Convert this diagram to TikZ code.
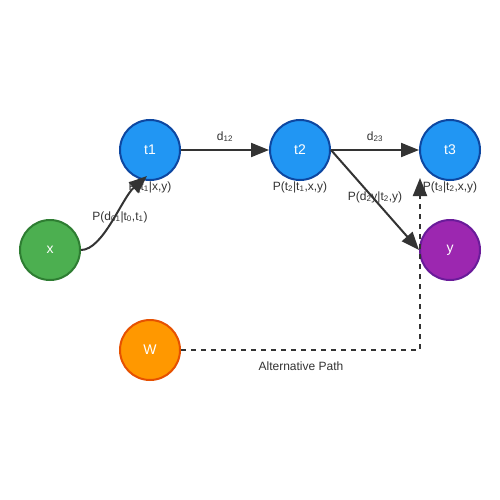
\documentclass[tikz,border=0pt]{standalone}
\usepackage{fontspec}
\setmainfont{Liberation Sans}
\usetikzlibrary{arrows.meta}
\definecolor{tblue}{HTML}{2196F3}
\definecolor{tblueb}{HTML}{0D47A1}
\definecolor{xgreen}{HTML}{4CAF50}
\definecolor{xgreenb}{HTML}{2E7D32}
\definecolor{ypurple}{HTML}{9C27B0}
\definecolor{ypurpleb}{HTML}{6A1B9A}
\definecolor{worange}{HTML}{FF9800}
\definecolor{worangeb}{HTML}{E65100}
\definecolor{ink}{HTML}{333333}
\newcommand{\subs}[1]{\textsubscript{#1}}
\begin{document}
\begin{tikzpicture}[x=1pt,y=-1pt,
  circ/.style={circle, minimum size=60pt, inner sep=0pt, line width=2pt, text=white, font=\fontsize{14}{16}\selectfont},
  lab/.style={inner sep=0pt, anchor=base, text=ink, font=\fontsize{12}{14}\selectfont},
  conn/.style={draw=ink, line width=2pt, -{Triangle[length=18pt,width=14pt]}},
  altconn/.style={conn, dash pattern=on 5pt off 5pt}]
\useasboundingbox[fill=white] (0,0) rectangle (500,500);
% labels
\node[lab] (lt1) at (150,190) {P(t\subs{1}|x,y)};
\node[lab] (lt2) at (300,190) {P(t\subs{2}|t\subs{1},x,y)};
\node[lab] (lt3) at (450,190) {P(t\subs{3}|t\subs{2},x,y)};
\node[lab] (l12) at (225,140) {d\subs{12}};
\node[lab] (l23) at (375,140) {d\subs{23}};
\node[lab] (l2y) at (375,200) {P(d\subs{2}y|t\subs{2},y)};
\node[lab] (l01) at (120,220) {P(d\subs{01}|t\subs{0},t\subs{1})};
\node[lab] (lalt) at (301,370) {Alternative Path};
% nodes
\node[circ, fill=xgreen, draw=xgreenb] (x) at (50,250) {x};
\node[circ, fill=tblue, draw=tblueb] (t1) at (150,150) {t1};
\node[circ, fill=tblue, draw=tblueb] (t2) at (300,150) {t2};
\node[circ, fill=tblue, draw=tblueb] (t3) at (450,150) {t3};
\node[circ, fill=ypurple, draw=ypurpleb] (y) at (450,250) {y};
\node[circ, fill=worange, draw=worangeb] (W) at (150,350) {W};
\coordinate (altend) at (420,178);
% connectors
\draw[conn] (x.east) .. controls +(22,0) and +(-25,22) .. ([shift={(-3,-5)}]t1.south);
\draw[conn] (t1) -- (t2);
\draw[conn] (t2) -- (t3);
\draw[conn] (t2.east) -- (y.west);
\draw[altconn] (W.east) -| (altend);
\end{tikzpicture}
\end{document}
